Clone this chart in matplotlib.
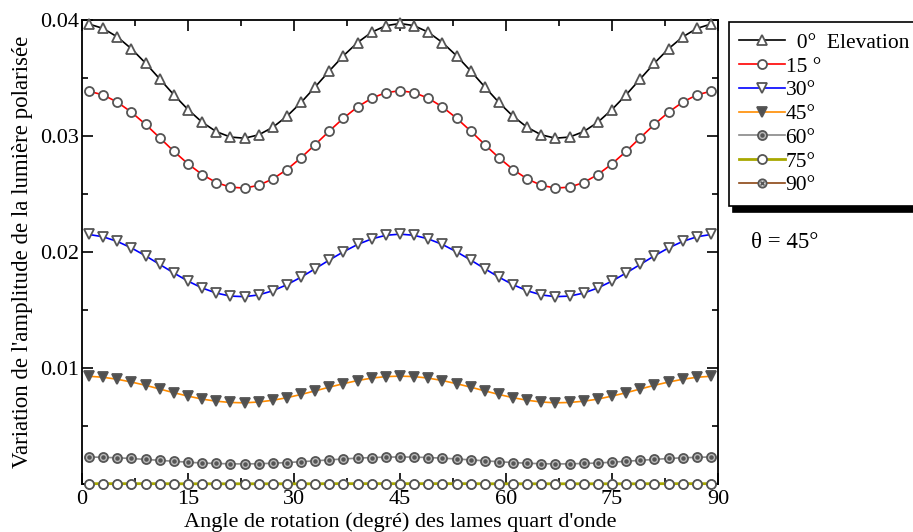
import matplotlib
matplotlib.use('Agg')
import matplotlib.pyplot as plt
from matplotlib.legend_handler import HandlerTuple
from matplotlib.ticker import MultipleLocator

plt.rcParams['font.family'] = ['Liberation Serif', 'DejaVu Serif']

# rotation angle of the quarter-wave plates (deg)
angles = list(range(1, 90, 2))

elev_0 = [0.03965, 0.03927, 0.03854, 0.03752, 0.03628, 0.03492, 0.03355, 0.03228, 0.03119,
          0.03038, 0.02991, 0.02981, 0.03010, 0.03075, 0.03170, 0.03289, 0.03423, 0.03561,
          0.03692, 0.03806, 0.03895, 0.03951, 0.03970, 0.03951, 0.03895, 0.03806, 0.03692,
          0.03561, 0.03423, 0.03289, 0.03170, 0.03075, 0.03010, 0.02981, 0.02991, 0.03038,
          0.03119, 0.03228, 0.03355, 0.03492, 0.03628, 0.03752, 0.03854, 0.03927, 0.03965]
elev_15 = [0.03386, 0.03354, 0.03292, 0.03205, 0.03100, 0.02985, 0.02868, 0.02760, 0.02668,
           0.02599, 0.02559, 0.02551, 0.02575, 0.02630, 0.02711, 0.02813, 0.02926, 0.03043,
           0.03154, 0.03251, 0.03326, 0.03374, 0.03390, 0.03374, 0.03326, 0.03251, 0.03154,
           0.03043, 0.02926, 0.02813, 0.02711, 0.02630, 0.02575, 0.02551, 0.02559, 0.02599,
           0.02668, 0.02760, 0.02868, 0.02985, 0.03100, 0.03205, 0.03292, 0.03354, 0.03386]
elev_30 = [0.02151, 0.02131, 0.02091, 0.02035, 0.01967, 0.01893, 0.01819, 0.01749, 0.01690,
           0.01646, 0.01620, 0.01615, 0.01630, 0.01666, 0.01718, 0.01783, 0.01856, 0.01931,
           0.02002, 0.02065, 0.02113, 0.02144, 0.02154, 0.02144, 0.02113, 0.02065, 0.02002,
           0.01931, 0.01856, 0.01783, 0.01718, 0.01666, 0.01630, 0.01615, 0.01620, 0.01646,
           0.01690, 0.01749, 0.01819, 0.01893, 0.01967, 0.02035, 0.02091, 0.02131, 0.02151]
elev_45 = [0.00929, 0.00920, 0.00903, 0.00879, 0.00851, 0.00819, 0.00787, 0.00758, 0.00732,
           0.00714, 0.00703, 0.00700, 0.00707, 0.00722, 0.00744, 0.00772, 0.00803, 0.00835,
           0.00865, 0.00892, 0.00913, 0.00926, 0.00930, 0.00926, 0.00913, 0.00892, 0.00865,
           0.00835, 0.00803, 0.00772, 0.00744, 0.00722, 0.00707, 0.00700, 0.00703, 0.00714,
           0.00732, 0.00758, 0.00787, 0.00819, 0.00851, 0.00879, 0.00903, 0.00920, 0.00929]
elev_60 = [0.00233, 0.00230, 0.00226, 0.00220, 0.00212, 0.00204, 0.00196, 0.00188, 0.00181,
           0.00177, 0.00174, 0.00173, 0.00175, 0.00179, 0.00185, 0.00192, 0.00200, 0.00208,
           0.00216, 0.00223, 0.00228, 0.00232, 0.00233, 0.00232, 0.00228, 0.00223, 0.00216,
           0.00208, 0.00200, 0.00192, 0.00185, 0.00179, 0.00175, 0.00173, 0.00174, 0.00177,
           0.00181, 0.00188, 0.00196, 0.00204, 0.00212, 0.00220, 0.00226, 0.00230, 0.00233]
elev_75 = [0.00003, 0.00003, 0.00003, 0.00003, 0.00003, 0.00003, 0.00002, 0.00002, 0.00002,
           0.00002, 0.00002, 0.00002, 0.00002, 0.00002, 0.00002, 0.00002, 0.00002, 0.00003,
           0.00003, 0.00003, 0.00003, 0.00003, 0.00003, 0.00003, 0.00003, 0.00003, 0.00003,
           0.00003, 0.00002, 0.00002, 0.00002, 0.00002, 0.00002, 0.00002, 0.00002, 0.00002,
           0.00002, 0.00002, 0.00002, 0.00002, 0.00003, 0.00003, 0.00003, 0.00003, 0.00003]
elev_90 = [0.0, 0.0, 0.0, 0.0, 0.0, 0.0, 0.0, 0.0, 0.0, 0.0, 0.0, 0.0, 0.0, 0.0, 0.0,
           0.0, 0.0, 0.0, 0.0, 0.0, 0.0, 0.0, 0.0, 0.0, 0.0, 0.0, 0.0, 0.0, 0.0, 0.0,
           0.0, 0.0, 0.0, 0.0, 0.0, 0.0, 0.0, 0.0, 0.0, 0.0, 0.0, 0.0, 0.0, 0.0, 0.0]

labels = ['  0°  Elevation', '15 °', '30°', '45°', '60°', '75°', '90°']

xticks = [0, 15, 30, 45, 60, 75, 90]
yticks = [0.01, 0.02, 0.03, 0.04]

fig = plt.figure(figsize=(9.13, 5.32), dpi=100)
ax = fig.add_axes([0.0898, 0.0902, 0.6966, 0.8722])

edge = '#555555'
kw = dict(lw=1.2, markeredgecolor=edge, markeredgewidth=1.3, clip_on=False)

l90 = ax.plot(angles, elev_90, color='#8b4513', marker='o', ms=6, mfc='#cccccc', zorder=2, **kw)[0]
l90b = ax.plot(angles, elev_90, ls='none', marker='x', ms=3.5, markeredgecolor=edge,
               markeredgewidth=1.0, clip_on=False, zorder=2)[0]
l0 = ax.plot(angles, elev_0, color='black', marker='^', ms=7.5, mfc='white', zorder=3, **kw)[0]
l15 = ax.plot(angles, elev_15, color='red', marker='o', ms=6.5, mfc='white', zorder=3, **kw)[0]
l30 = ax.plot(angles, elev_30, color='blue', marker='v', ms=7.5, mfc='white', zorder=3, **kw)[0]
l45 = ax.plot(angles, elev_45, color='#ff8c00', marker='v', ms=7.5, mfc='#505050', zorder=3, **kw)[0]
l60 = ax.plot(angles, elev_60, color='#888888', marker='o', ms=6.5, mfc='#bbbbbb', zorder=3, **kw)[0]
l60b = ax.plot(angles, elev_60, ls='none', marker='o', ms=2.2, mfc=edge, markeredgecolor=edge,
               clip_on=False, zorder=3)[0]
l75 = ax.plot(angles, elev_75, color='#a8a800', lw=2.0, marker='o', ms=6.5, mfc='white',
              markeredgecolor=edge, markeredgewidth=1.3, clip_on=False, zorder=4)[0]

ax.set_xlim(0, 90)
ax.set_ylim(0, 0.04)
ax.set_xticks(xticks)
ax.set_yticks(yticks)
ax.set_yticklabels(['0.01', '0.02', '0.03', '0.04'])
ax.xaxis.set_minor_locator(MultipleLocator(7.5))
ax.yaxis.set_minor_locator(MultipleLocator(0.005))
ax.tick_params(which='both', direction='in', top=True, right=True, labelsize=16, width=1.2)
ax.tick_params(axis='x', pad=4)
ax.tick_params(axis='y', pad=2)
ax.tick_params(which='major', length=8)
ax.tick_params(which='minor', length=4.5)
for s in ax.spines.values():
    s.set_linewidth(1.3)

ax.set_xlabel("Angle de rotation (degré) des lames quart d'onde", fontsize=16, labelpad=3)
ax.set_ylabel("Variation de l'amplitude de la lumière polarisée", fontsize=16.5, labelpad=5)

handles = [l0, l15, l30, l45, (l60, l60b), l75, (l90, l90b)]
leg = fig.legend(handles, labels, loc='upper left', bbox_to_anchor=(0.798, 0.9586),
                 fontsize=15.5, handlelength=2.1, handletextpad=0.05, labelspacing=0.17,
                 borderpad=0.5, borderaxespad=0, fancybox=False, framealpha=1,
                 edgecolor='black', handler_map={tuple: HandlerTuple(ndivide=1)},
                 shadow={'ox': 3, 'oy': -4.5, 'color': 'black', 'alpha': 1})
leg.get_frame().set_linewidth(1.2)

fig.text(0.823, 0.545, 'θ = 45°', fontsize=16.5, ha='left', va='center')

fig.savefig('out.png', dpi=100)
